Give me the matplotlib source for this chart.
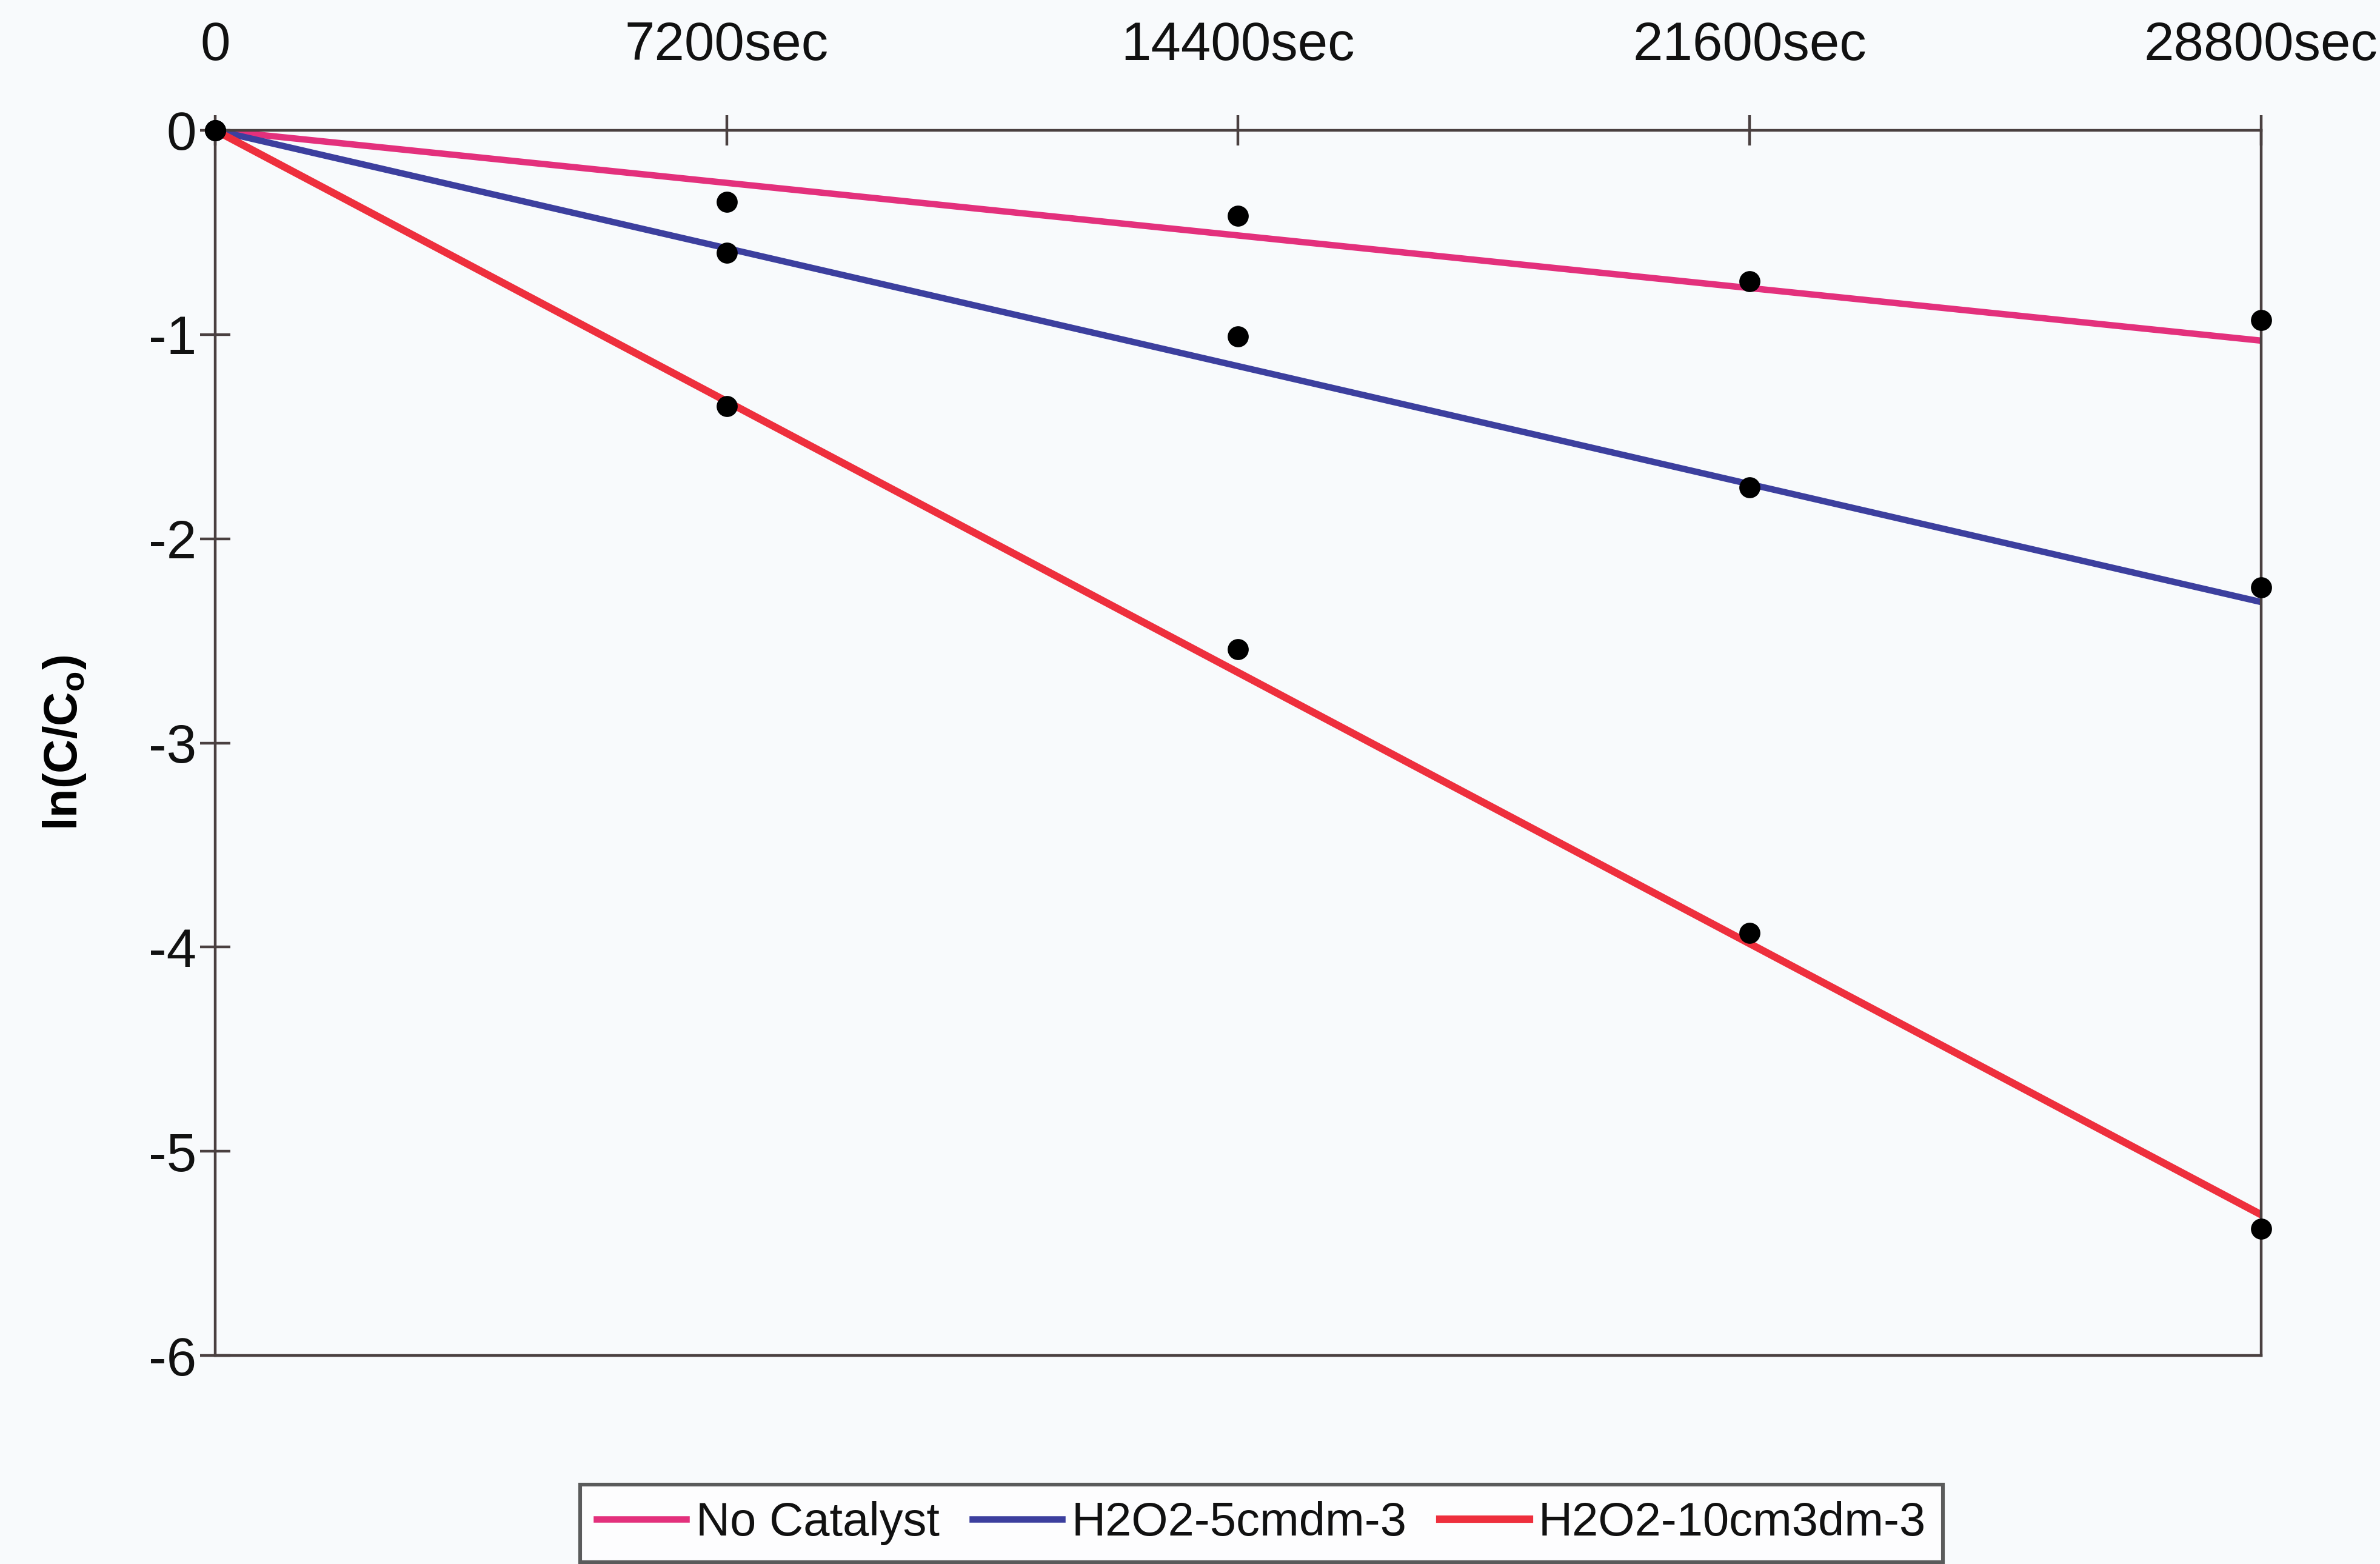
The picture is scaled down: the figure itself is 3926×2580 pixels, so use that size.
import numpy as np
import matplotlib
matplotlib.use("Agg")
import matplotlib.pyplot as plt

plt.rcParams['font.family'] = ['Liberation Sans', 'DejaVu Sans']
plt.rcParams['mathtext.fontset'] = 'custom'
plt.rcParams['mathtext.bf'] = 'Liberation Sans:bold'
plt.rcParams['mathtext.rm'] = 'Liberation Sans'
plt.rcParams['text.color'] = '#111111'

# time points (seconds) and tick labels
times = [0, 7200, 14400, 21600, 28800]
tick_labels = ['0', '7200sec', '14400sec', '21600sec', '28800sec']

# measured ln(C/Co) values
no_catalyst = [0, -0.35, -0.42, -0.74, -0.93]
h2o2_5 = [0, -0.60, -1.01, -1.75, -2.24]
h2o2_10 = [0, -1.35, -2.54, -3.93, -5.38]

# trend line values at start and end (0 and 28800 sec)
trend_x = [0, 28800]
trend_no_catalyst = [0, -1.03]
trend_h2o2_5 = [0, -2.31]
trend_h2o2_10 = [0, -5.31]

series_names = ['No Catalyst', 'H2O2-5cmdm-3', 'H2O2-10cm3dm-3']
series_colors = ['#e3307c', '#3c3f9e', '#ee2f3d']

bg = '#f8fafc'
fig = plt.figure(figsize=(19.63, 12.9), dpi=200, facecolor=bg)
ax = fig.add_axes([0.0904, 0.1333, 0.8596, 0.7834], facecolor=bg)

trends = [trend_no_catalyst, trend_h2o2_5, trend_h2o2_10]
widths = [3.8, 3.8, 4.4]
for name, col, tr, lw in zip(series_names, series_colors, trends, widths):
    ax.plot(trend_x, tr, color=col, lw=lw, label=name, zorder=2)

for vals in [no_catalyst, h2o2_5, h2o2_10]:
    ax.plot(times, vals, 'o', color='black', ms=11.5, zorder=3, clip_on=False)

ax.set_xlim(0, 28800)
ax.set_ylim(-6, 0)

ax.xaxis.tick_top()
ax.set_xticks(times)
ax.set_xticklabels(tick_labels)
ax.set_yticks(np.arange(-6, 1, 1))
ax.set_yticklabels([str(v) for v in range(-6, 1)])

ax.tick_params(axis='x', direction='inout', length=18, width=1.6,
               color='#4a4040', labelsize=32, pad=26, labelcolor='#111111')
ax.tick_params(axis='y', direction='inout', length=18, width=1.6,
               color='#4a4040', labelsize=32, pad=2, labelcolor='#111111')

for sp in ax.spines.values():
    sp.set_color('#4a4040')
    sp.set_linewidth(1.6)

ax.set_ylabel(r'ln(C/C$_\mathbf{o}$)', fontsize=28, fontweight='bold', labelpad=36)

leg = fig.legend(loc='center', bbox_to_anchor=(0.53, 0.026), ncol=3,
                 fontsize=28, frameon=True, fancybox=False, handlelength=1.9,
                 handletextpad=0.2, columnspacing=0.7, borderpad=0.35,
                 edgecolor='#333333', facecolor='white')
leg.get_frame().set_linewidth(2.2)

fig.savefig('out.png', dpi=200, facecolor=bg)
